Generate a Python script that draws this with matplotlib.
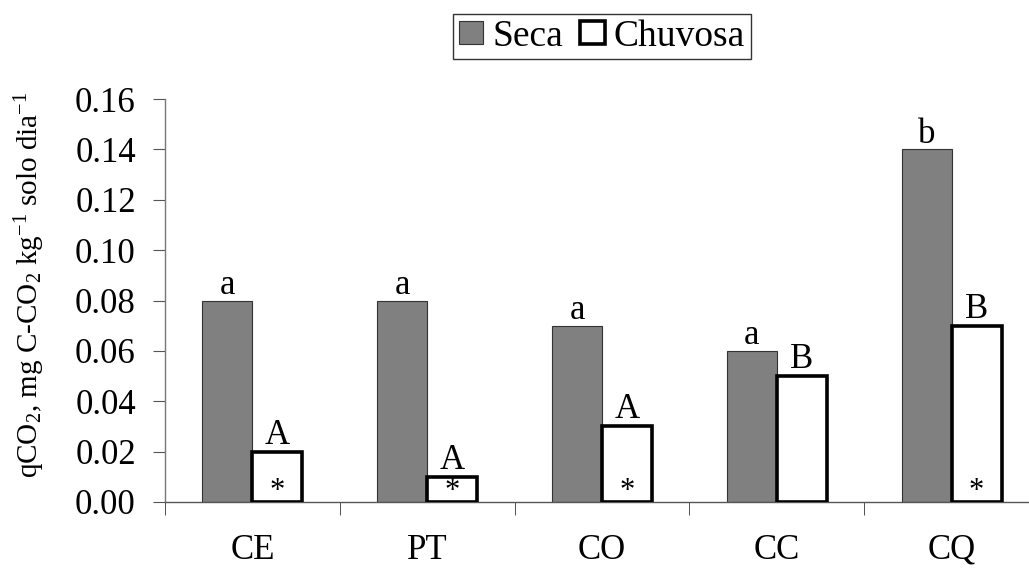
import matplotlib
matplotlib.use("Agg")
import matplotlib.pyplot as plt
import numpy as np
from matplotlib.patches import Patch

plt.rcParams['font.family'] = ['Liberation Serif', 'DejaVu Serif']
plt.rcParams['mathtext.fontset'] = 'custom'
plt.rcParams['mathtext.rm'] = 'Liberation Serif'
plt.rcParams['mathtext.it'] = 'Liberation Serif:italic'
plt.rcParams['mathtext.default'] = 'rm'

categories = ['CE', 'PT', 'CO', 'CC', 'CQ']
seca = [0.08, 0.08, 0.07, 0.06, 0.14]
chuvosa = [0.02, 0.01, 0.03, 0.05, 0.07]
seca_letters = ['a', 'a', 'a', 'a', 'b']
chuvosa_letters = ['A', 'A', 'A', 'B', 'B']
chuvosa_star = [True, True, True, False, True]
yticks = [0.00, 0.02, 0.04, 0.06, 0.08, 0.10, 0.12, 0.14, 0.16]

fig = plt.figure(figsize=(10.29, 5.68), dpi=100)
ax = fig.add_axes([165/1029, 66/568, 874/1029, 403/568])

x = np.arange(len(categories))
w = 0.286
ax.bar(x - w/2, seca, w, color='#808080', edgecolor='#333333', linewidth=0.8, label='Seca', zorder=2)
ax.bar(x + w/2, chuvosa, w, color='white', edgecolor='black', linewidth=2.6, label='Chuvosa', zorder=3)

for i in range(len(categories)):
    ax.annotate(seca_letters[i], (x[i] - w/2, seca[i]), xytext=(0, -1), textcoords='offset points',
                ha='center', va='bottom', fontsize=25)
    ax.annotate(chuvosa_letters[i], (x[i] + w/2, chuvosa[i]), xytext=(0, 0), textcoords='offset points',
                ha='center', va='bottom', fontsize=25)
    if chuvosa_star[i]:
        ax.annotate('*', (x[i] + w/2, 0), xytext=(0, -3), textcoords='offset points',
                    ha='center', va='bottom', fontsize=22, zorder=5)

ax.set_xlim(-0.5, 4.5)
ax.set_ylim(0, 0.16)
ax.set_yticks(yticks)
ax.set_yticklabels([f'{v:.2f}' for v in yticks], fontsize=25)
ax.set_xticks(x)
ax.set_xticklabels(categories, fontsize=25)
ax.tick_params(axis='x', length=0, pad=23)
ax.set_xticks(np.arange(-0.5, 5.0, 1.0), minor=True)
ax.tick_params(axis='x', which='minor', length=9, direction='out', color='#333333')
ax.tick_params(axis='y', length=9, direction='out', color='#555555', pad=12)

for s in ['top', 'right']:
    ax.spines[s].set_visible(False)
ax.spines['left'].set_color('#777777')
ax.spines['bottom'].set_color('#555555')
ax.spines['left'].set_linewidth(1.0)
ax.spines['bottom'].set_linewidth(1.0)

fig.text(30/1029, 1 - 285/568, r'qCO$_2$, mg C-CO$_2$ kg$^{-1}$ solo dia$^{-1}$',
         rotation=90, ha='center', va='center', fontsize=21)

handles = [Patch(facecolor='#808080', edgecolor='#333333', linewidth=0.8),
           Patch(facecolor='white', edgecolor='black', linewidth=2.6)]
leg = fig.legend(handles, ['Seca', 'Chuvosa'], loc='center', bbox_to_anchor=(602/1029, 1 - 36.5/568),
                 ncol=2, fontsize=27, frameon=True, fancybox=False, edgecolor='black',
                 handlelength=0.65, handleheight=0.6, handletextpad=0.25, columnspacing=0.45,
                 borderpad=0.15, borderaxespad=0)
leg.get_frame().set_linewidth(1.0)

fig.savefig('out.png', dpi=100)
